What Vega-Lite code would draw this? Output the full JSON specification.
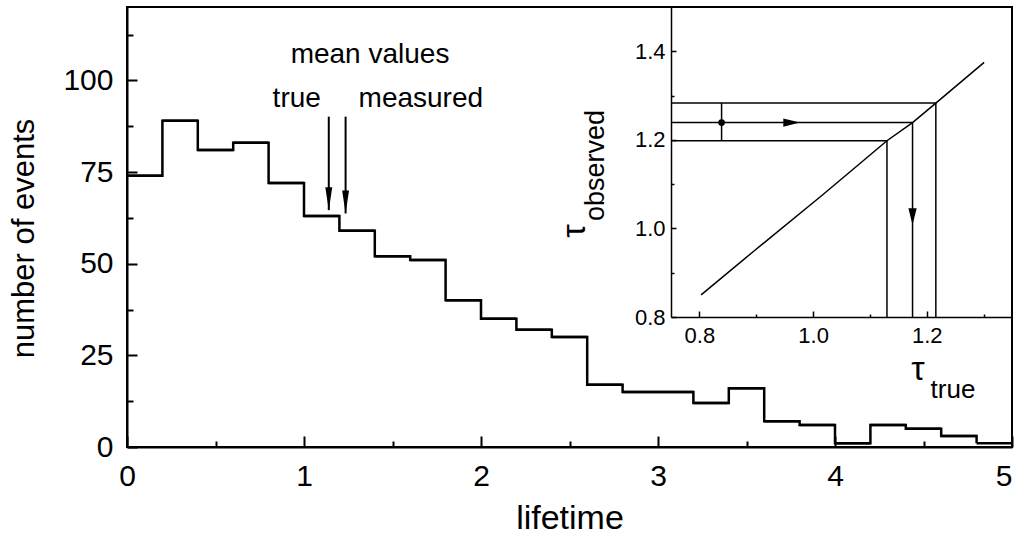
{
  "$schema": "https://vega.github.io/schema/vega-lite/v6.json",
  "width": 885,
  "height": 440,
  "autosize": {"type": "none"},
  "padding": {"left": 127, "top": 7, "right": 7, "bottom": 99},
  "background": "white",
  "config": {
    "font": "Liberation Sans",
    "view": {"stroke": "black", "strokeWidth": 2},
    "axis": {"domainColor": "black", "tickColor": "black", "labelColor": "black", "titleColor": "black", "grid": false, "titleFontWeight": "normal", "labelFont": "Liberation Sans", "titleFont": "Liberation Sans"},
    "text": {"color": "black", "font": "Liberation Sans"}
  },
  "datasets": {
    "hist": [
      {"start": 0.0, "end": 0.2, "count": 74},
      {"start": 0.2, "end": 0.4, "count": 89},
      {"start": 0.4, "end": 0.6, "count": 81},
      {"start": 0.6, "end": 0.8, "count": 83},
      {"start": 0.8, "end": 1.0, "count": 72},
      {"start": 1.0, "end": 1.2, "count": 63},
      {"start": 1.2, "end": 1.4, "count": 59},
      {"start": 1.4, "end": 1.6, "count": 52},
      {"start": 1.6, "end": 1.8, "count": 51},
      {"start": 1.8, "end": 2.0, "count": 40},
      {"start": 2.0, "end": 2.2, "count": 35},
      {"start": 2.2, "end": 2.4, "count": 32},
      {"start": 2.4, "end": 2.6, "count": 30},
      {"start": 2.6, "end": 2.8, "count": 17},
      {"start": 2.8, "end": 3.0, "count": 15},
      {"start": 3.0, "end": 3.2, "count": 15},
      {"start": 3.2, "end": 3.4, "count": 12},
      {"start": 3.4, "end": 3.6, "count": 16},
      {"start": 3.6, "end": 3.8, "count": 7},
      {"start": 3.8, "end": 4.0, "count": 6},
      {"start": 4.0, "end": 4.2, "count": 1},
      {"start": 4.2, "end": 4.4, "count": 6},
      {"start": 4.4, "end": 4.6, "count": 5},
      {"start": 4.6, "end": 4.8, "count": 3},
      {"start": 4.8, "end": 5.0, "count": 1}
    ],
    "arrows": [
      {"name": "true", "x": 1.14, "top": 90.1, "tip": 64.6},
      {"name": "measured", "x": 1.235, "top": 90.1, "tip": 63.7}
    ],
    "notes": [
      {"text": "mean values", "x": 1.373, "y": 104.8},
      {"text": "true", "x": 0.959, "y": 92.6},
      {"text": "measured", "x": 1.66, "y": 92.6}
    ],
    "curve": [
      {"t": 0.803, "o": 0.85},
      {"t": 0.895, "o": 0.948},
      {"t": 1.017, "o": 1.076},
      {"t": 1.130, "o": 1.198},
      {"t": 1.175, "o": 1.239},
      {"t": 1.216, "o": 1.283},
      {"t": 1.301, "o": 1.375}
    ],
    "levels": [
      {"t0": 0.75, "t": 1.130, "o": 1.198, "o0": 0.8},
      {"t0": 0.75, "t": 1.175, "o": 1.239, "o0": 0.8},
      {"t0": 0.75, "t": 1.216, "o": 1.283, "o0": 0.8}
    ],
    "err": [
      {"t": 0.839, "lo": 1.198, "mid": 1.239, "hi": 1.283}
    ],
    "heads": [
      {"dir": "right", "t": 0.977, "o": 1.239},
      {"dir": "down", "t": 1.175, "o": 1.008}
    ]
  },
  "layer": [
    {
      "layer": [
        {
          "data": {"name": "hist"},
          "mark": {"type": "line", "interpolate": "step-after", "color": "black", "strokeWidth": 2.5},
          "encoding": {
            "x": {
              "field": "start", "type": "quantitative",
              "scale": {"domain": [0, 5], "nice": false, "zero": false},
              "axis": {
                "values": [0, 0.5, 1, 1.5, 2, 2.5, 3, 3.5, 4, 4.5, 5],
                "labelExpr": "datum.value % 1 == 0 ? format(datum.value, 'd') : ''",
                "labelAlign": {"condition": {"test": "datum.value == 5", "value": "right"}, "value": "center"},
                "tickSize": {"condition": {"test": "datum.value % 1 != 0", "value": -6}, "value": -11},
                "tickWidth": 2, "domainWidth": 2,
                "labelFontSize": 30, "labelPadding": 25, "labelFlush": false, "labelOverlap": false,
                "title": "lifetime", "titleFontSize": 34, "titleY": 81, "titleBaseline": "alphabetic"
              }
            },
            "y": {
              "field": "count", "type": "quantitative",
              "scale": {"domain": [0, 120], "nice": false, "zero": false},
              "axis": {
                "values": [0, 12.5, 25, 37.5, 50, 62.5, 75, 87.5, 100, 112.5],
                "labelExpr": "datum.value % 25 == 0 ? format(datum.value, 'd') : ''",
                "tickSize": {"condition": {"test": "datum.value % 25 != 0", "value": -6}, "value": -10},
                "tickWidth": 2, "domainWidth": 2,
                "labelFontSize": 30, "labelPadding": 24, "labelOverlap": false,
                "title": "number of events", "titleFontSize": 31, "titleX": -94, "titleY": 231,
                "titleBaseline": "alphabetic", "titleAlign": "center", "titleAngle": 270
              }
            }
          }
        },
        {
          "data": {"name": "hist"},
          "mark": {"type": "rule", "color": "black", "strokeWidth": 2.5},
          "encoding": {
            "x": {"field": "start", "type": "quantitative"},
            "x2": {"field": "end"},
            "y": {"field": "count", "type": "quantitative"}
          }
        },
        {
          "data": {"name": "arrows"},
          "mark": {"type": "rule", "color": "black", "strokeWidth": 2},
          "encoding": {
            "x": {"field": "x", "type": "quantitative"},
            "y": {"field": "top", "type": "quantitative"},
            "y2": {"field": "tip"}
          }
        },
        {
          "data": {"name": "arrows"},
          "mark": {"type": "point", "shape": "M0,0L-0.3,-2L0.3,-2Z", "size": 529, "filled": true, "color": "black", "opacity": 1, "strokeWidth": 0},
          "encoding": {
            "x": {"field": "x", "type": "quantitative"},
            "y": {"field": "tip", "type": "quantitative"}
          }
        },
        {
          "data": {"name": "notes"},
          "mark": {"type": "text", "fontSize": 28, "align": "center", "baseline": "alphabetic", "color": "black"},
          "encoding": {
            "x": {"field": "x", "type": "quantitative"},
            "y": {"field": "y", "type": "quantitative"},
            "text": {"field": "text"}
          }
        }
      ]
    },
    {
      "layer": [
        {
          "data": {"name": "curve"},
          "mark": {"type": "line", "color": "black", "strokeWidth": 1.5},
          "encoding": {
            "x": {
              "field": "t", "type": "quantitative",
              "scale": {"domain": [0.75, 1.35], "range": [544, 885], "nice": false, "zero": false},
              "axis": {
                "orient": "bottom", "offset": -130,
                "values": [0.8, 0.9, 1.0, 1.1, 1.2, 1.3],
                "labelExpr": "round(datum.value*10) % 2 == 0 ? format(datum.value, '.1f') : ''",
                "tickSize": {"condition": {"test": "round(datum.value*10) % 2 == 1", "value": -3}, "value": -6},
                "tickWidth": 1.5, "domainWidth": 1.5,
                "labelFontSize": 22, "labelPadding": 14, "labelFlush": false, "labelOverlap": false,
                "title": null
              }
            },
            "y": {
              "field": "o", "type": "quantitative",
              "scale": {"domain": [0.8, 1.5], "range": [310, 0], "nice": false, "zero": false},
              "axis": {
                "orient": "left", "offset": -544,
                "values": [0.8, 0.9, 1.0, 1.1, 1.2, 1.3, 1.4],
                "labelExpr": "round(datum.value*10) % 2 == 0 ? format(datum.value, '.1f') : ''",
                "tickSize": {"condition": {"test": "round(datum.value*10) % 2 == 1", "value": -3}, "value": -5},
                "tickWidth": 1.5, "domainWidth": 1.5,
                "labelFontSize": 22, "labelPadding": 11, "labelFlush": false, "labelOverlap": false,
                "title": null
              }
            }
          }
        },
        {
          "data": {"name": "levels"},
          "mark": {"type": "rule", "color": "black", "strokeWidth": 1.5},
          "encoding": {
            "x": {"field": "t0", "type": "quantitative"},
            "x2": {"field": "t"},
            "y": {"field": "o", "type": "quantitative"}
          }
        },
        {
          "data": {"name": "levels"},
          "mark": {"type": "rule", "color": "black", "strokeWidth": 1.5},
          "encoding": {
            "x": {"field": "t", "type": "quantitative"},
            "y": {"field": "o", "type": "quantitative"},
            "y2": {"field": "o0"}
          }
        },
        {
          "data": {"name": "err"},
          "mark": {"type": "rule", "color": "black", "strokeWidth": 1.5},
          "encoding": {
            "x": {"field": "t", "type": "quantitative"},
            "y": {"field": "lo", "type": "quantitative"},
            "y2": {"field": "hi"}
          }
        },
        {
          "data": {"name": "err"},
          "mark": {"type": "point", "shape": "circle", "size": 45, "filled": true, "color": "black", "opacity": 1},
          "encoding": {
            "x": {"field": "t", "type": "quantitative"},
            "y": {"field": "mid", "type": "quantitative"}
          }
        },
        {
          "data": {"name": "heads"},
          "mark": {"type": "point", "size": 279, "filled": true, "color": "black", "opacity": 1, "strokeWidth": 0},
          "encoding": {
            "x": {"field": "t", "type": "quantitative"},
            "y": {"field": "o", "type": "quantitative"},
            "shape": {"field": "dir", "type": "nominal", "scale": {"domain": ["right", "down"], "range": ["M0,0L-2,-0.5L-2,0.5Z", "M0,0L-0.5,-2L0.5,-2Z"]}, "legend": null}
          }
        },
        {
          "data": {"values": [{"label": "τ", "t": 1.1846, "o": 0.6577}]},
          "mark": {"type": "text", "fontSize": 34, "align": "center", "baseline": "alphabetic", "color": "black"},
          "encoding": {
            "x": {"field": "t", "type": "quantitative"},
            "y": {"field": "o", "type": "quantitative"},
            "text": {"field": "label"}
          }
        },
        {
          "data": {"values": [{"label": "true", "t": 1.2462, "o": 0.6171}]},
          "mark": {"type": "text", "fontSize": 26, "align": "center", "baseline": "alphabetic", "color": "black"},
          "encoding": {
            "x": {"field": "t", "type": "quantitative"},
            "y": {"field": "o", "type": "quantitative"},
            "text": {"field": "label"}
          }
        },
        {
          "data": {"values": [{"label": "τ", "t": 0.5987, "o": 0.9942}]},
          "mark": {"type": "text", "fontSize": 34, "angle": 270, "align": "center", "baseline": "alphabetic", "color": "black"},
          "encoding": {
            "x": {"field": "t", "type": "quantitative"},
            "y": {"field": "o", "type": "quantitative"},
            "text": {"field": "label"}
          }
        },
        {
          "data": {"values": [{"label": "observed", "t": 0.6321, "o": 1.1421}]},
          "mark": {"type": "text", "fontSize": 27, "angle": 270, "align": "center", "baseline": "alphabetic", "color": "black"},
          "encoding": {
            "x": {"field": "t", "type": "quantitative"},
            "y": {"field": "o", "type": "quantitative"},
            "text": {"field": "label"}
          }
        }
      ]
    }
  ],
  "resolve": {"scale": {"x": "independent", "y": "independent"}}
}
